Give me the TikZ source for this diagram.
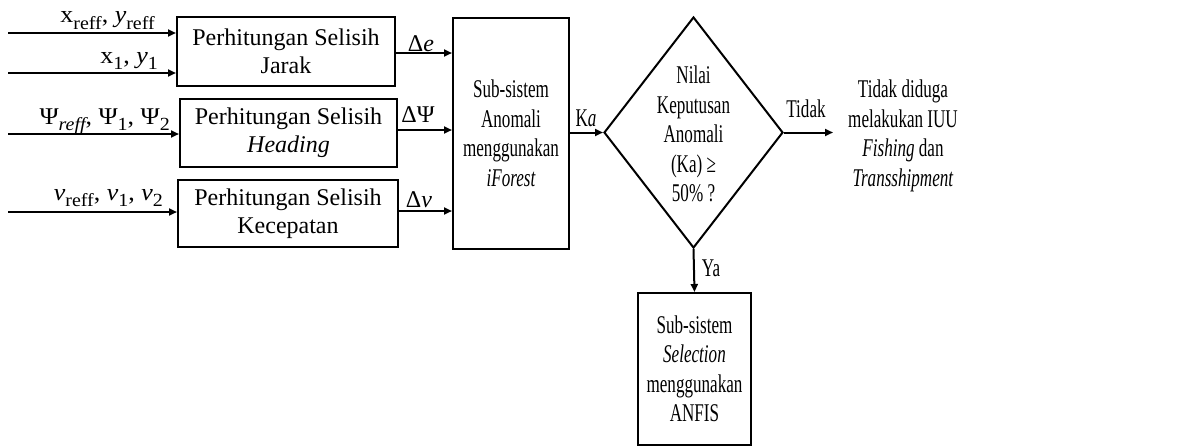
\documentclass[tikz,border=0pt]{standalone}
\usepackage{fontspec}
\setmainfont{Liberation Serif}
\newfontfamily\narrowserif{Liberation Serif}[FakeStretch=0.67]
\newfontfamily\wideserif{Liberation Serif}[FakeStretch=1.08]
\usetikzlibrary{arrows.meta,shapes.geometric}
% lowered subscript for the signal labels
\newcommand\lowidx[1]{\raisebox{-0.28em}{\fontsize{18.5}{18.5}\selectfont #1}}

\begin{document}
\begin{tikzpicture}[x=1pt,y=-1pt,
  box/.style={draw,line width=2pt,inner sep=0pt,align=center,
    font=\fontsize{24}{28}\selectfont},
  nbox/.style={draw,line width=2pt,inner sep=0pt,align=center,
    font=\narrowserif\fontsize{25.5}{29.5}\selectfont},
  conn/.style={line width=2pt,-{Triangle[length=8pt,width=7pt]}},
  lbl/.style={inner sep=0pt,font=\wideserif\fontsize{24}{26}\selectfont},
  dlbl/.style={inner sep=0pt,anchor=base,font=\fontsize{24}{26}\selectfont},
  nlbl/.style={inner sep=0pt,align=center,
    font=\narrowserif\fontsize{25.5}{29.5}\selectfont}]
\useasboundingbox (0,0) rectangle (1200,447);

% difference blocks
\node[box,minimum width=218pt,minimum height=69pt] (jarak) at (286,51.5)
  {Perhitungan Selisih\\Jarak};
\node[box,minimum width=217pt,minimum height=68pt] (heading) at (288.5,133)
  {Perhitungan Selisih\\\itshape Heading};
\node[box,minimum width=220pt,minimum height=67pt] (kec) at (288,213.5)
  {Perhitungan Selisih\\Kecepatan};

% anomaly sub-system
\node[nbox,minimum width=116pt,minimum height=231pt] (anom) at (511,133.5)
  {Sub-sistem\\Anomali\\menggunakan\\\itshape iForest};

% decision
\node[draw,line width=2pt,diamond,inner sep=0pt,
  minimum width=179pt,minimum height=231pt] (dec) at (693.5,132.5) {};
\node[nlbl] (dectxt) at (693.5,134) {Nilai\\Keputusan\\Anomali\\(Ka) ≥\\50\% ?};

% selection sub-system
\node[nbox,minimum width=113pt,minimum height=152pt] (sel) at (694.5,369)
  {Sub-sistem\\\itshape Selection\\menggunakan\\ANFIS};

% outcome when not anomalous
\node[nlbl] (hasil) at (903,136)
  {Tidak diduga\\melakukan IUU\\\textit{Fishing} dan\\\textit{Transshipment}};

% inputs
\coordinate (in1) at (8,33);
\coordinate (in2) at (8,73);
\coordinate (in3) at (8,134);
\coordinate (in4) at (8,212);
\draw[conn] (in1) -- (in1 -| jarak.west);
\draw[conn] (in2) -- (in2 -| jarak.west);
\draw[conn] (in3) -- (in3 -| heading.west);
\draw[conn] (in4) -- (in4 -| kec.west);

\node[lbl,anchor=base east] (lin1) at (155,23)
  {x\lowidx{reff}, \textit{y}\lowidx{reff}};
\node[lbl,anchor=base east] (lin2) at (158,63)
  {x\lowidx{1}, \textit{y}\lowidx{1}};
\node[lbl,anchor=base east] (lin3) at (170,124)
  {Ψ\lowidx{\itshape reff}, Ψ\lowidx{1}, Ψ\lowidx{2}};
\node[lbl,anchor=base east] (lin4) at (163,200)
  {\textit{v}\lowidx{reff}, \textit{v}\lowidx{1}, \textit{v}\lowidx{2}};

% differences into the anomaly block
\coordinate (o1) at (395,53);
\coordinate (o2) at (397,130);
\coordinate (o3) at (398,211);
\draw[conn] (o1) -- (o1 -| anom.west);
\draw[conn] (o2) -- (o2 -| anom.west);
\draw[conn] (o3) -- (o3 -| anom.west);
\node[dlbl] (lde) at (421,51) {Δ\textit{e}};
\node[dlbl] (ldp) at (418,122) {ΔΨ};
\node[dlbl] (ldv) at (419,207) {Δ\textit{v}};

% anomaly score to decision
\draw[conn] (anom.east |- dec.west) -- (dec.west);
\node[nlbl] (lka) at (586,118) {K\textit{a}};

% decision branches
\coordinate (tend) at (833,132.5);
\draw[conn] (dec.east) -- (tend);
\node[nlbl] (ltidak) at (806,109) {Tidak};
\draw[conn] (dec.south) -- (sel.north);
\node[nlbl] (lya) at (711,268) {Ya};
\end{tikzpicture}
\end{document}
